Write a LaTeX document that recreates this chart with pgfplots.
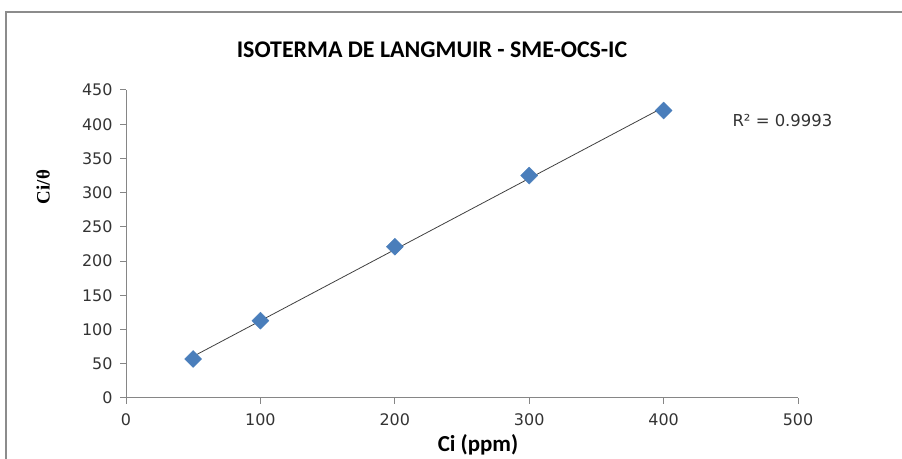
\documentclass[border=0pt]{standalone}
\usepackage{pgfplots}
\pgfplotsset{compat=1.18}
\usepackage{fontspec}
\setmainfont{DejaVu Sans}
\newfontfamily\carlito{Carlito}
\newfontfamily\lserif{Liberation Serif}
\definecolor{axisgray}{HTML}{868686}
\definecolor{mblue}{HTML}{4A7EBB}
\definecolor{bordergray}{HTML}{8C8C8C}
\begin{document}
\begin{tikzpicture}[x=1bp,y=1bp]
\path[use as bounding box] (0,0) rectangle (902,459);
\draw[line width=2bp, color=bordergray] (6,0) -- (6,447) -- (903,447);
\begin{axis}[at={(126bp,61bp)}, anchor=south west, scale only axis,
  width=672bp, height=308bp,
  xmin=0, xmax=500, ymin=0, ymax=450,
  xtick={0,100,...,500}, ytick={0,50,...,450},
  axis x line*=bottom, axis y line*=left,
  axis line style={axisgray, line width=1bp},
  every tick/.style={axisgray, line width=1bp},
  tick align=outside, major tick length=6bp,
  ticklabel style={font=\fontsize{16}{19}\selectfont, text=black!80},
  xticklabel style={yshift=-6bp},
  yticklabel style={xshift=-4bp},
  /pgf/number format/assume math mode=true,
  clip=false]
\addplot[only marks, mark=square*, mark size=6bp,
  mark options={rotate=45, fill=mblue, draw=mblue}]
  coordinates {(50,57) (100,113) (200,221) (300,325) (400,420)};
\addplot[black!75, line width=0.8bp, no marks] coordinates {(50,60.8) (400,424.8)};
\end{axis}
\node[font=\carlito\bfseries\fontsize{24}{28}\selectfont] at (432,409) {ISOTERMA DE LANGMUIR - SME-OCS-IC};
\node[rotate=90, font=\lserif\bfseries\fontsize{19}{22}\selectfont] at (43,272) {Ci/θ};
\node[font=\carlito\bfseries\fontsize{23}{26}\selectfont] at (478,14) {Ci (ppm)};
\node[anchor=west, font=\fontsize{16.5}{19}\selectfont, text=black!80] at (729,338) {R² = 0.9993};
\end{tikzpicture}
\end{document}
